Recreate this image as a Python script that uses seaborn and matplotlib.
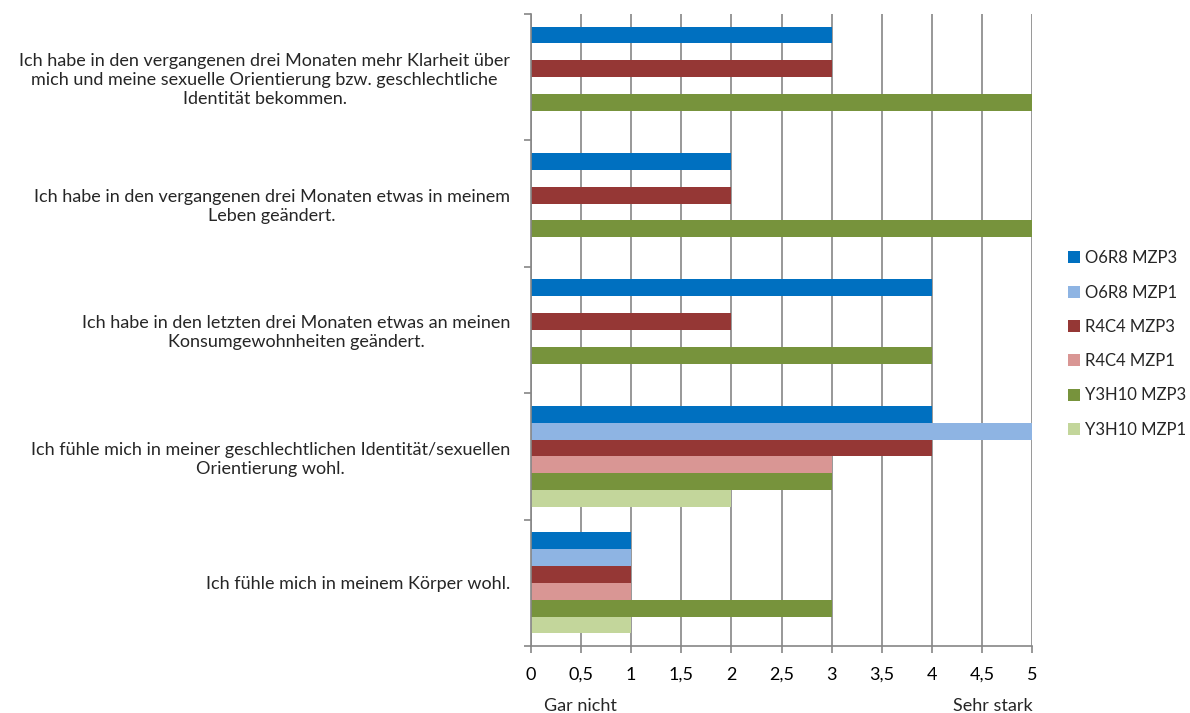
import matplotlib
matplotlib.use("Agg")
import matplotlib.pyplot as plt
import seaborn as sns
import pandas as pd
import numpy as np
from matplotlib.patches import Patch
from matplotlib.ticker import FixedLocator

categories = [
    "Ich habe in den vergangenen drei Monaten mehr Klarheit über\nmich und meine sexuelle Orientierung bzw. geschlechtliche\nIdentität bekommen.",
    "Ich habe in den vergangenen drei Monaten etwas in meinem\nLeben geändert.",
    "Ich habe in den letzten drei Monaten etwas an meinen\nKonsumgewohnheiten geändert.",
    "Ich fühle mich in meiner geschlechtlichen Identität/sexuellen\nOrientierung wohl.",
    "Ich fühle mich in meinem Körper wohl.",
]
series = ["O6R8 MZP3", "O6R8 MZP1", "R4C4 MZP3", "R4C4 MZP1", "Y3H10 MZP3", "Y3H10 MZP1"]
o6r8_mzp3 = [3, 2, 4, 4, 1]
o6r8_mzp1 = [None, None, None, 5, 1]
r4c4_mzp3 = [3, 2, 2, 4, 1]
r4c4_mzp1 = [None, None, None, 3, 1]
y3h10_mzp3 = [5, 5, 4, 3, 3]
y3h10_mzp1 = [None, None, None, 2, 1]
colors = ["#0070C0", "#8EB4E3", "#953735", "#D99694", "#77933C", "#C3D69B"]
x_ticks = [0, 0.5, 1, 1.5, 2, 2.5, 3, 3.5, 4, 4.5, 5]
x_tick_labels = ["0", "0,5", "1", "1,5", "2", "2,5", "3", "3,5", "4", "4,5", "5"]

values = [o6r8_mzp3, o6r8_mzp1, r4c4_mzp3, r4c4_mzp1, y3h10_mzp3, y3h10_mzp1]
rows = []
for s, vals in zip(series, values):
    for c, v in zip(categories, vals):
        if v is not None:
            rows.append({"Kategorie": c, "Serie": s, "Wert": v})
df = pd.DataFrame(rows)

sns.set_style("white")
plt.rcParams["font.family"] = ["Lato", "DejaVu Sans"]
FS = 13

fig = plt.figure(figsize=(11.9, 7.13), dpi=100)
ax = fig.add_axes([531/1190, 1-646/713, (1032-531)/1190, (646-14)/713])

sns.barplot(data=df, y="Kategorie", x="Wert", hue="Serie", order=categories,
            hue_order=series, palette=colors, orient="h", width=0.8,
            errorbar=None, ax=ax, legend=False, saturation=1, linewidth=0)

ax.set_xlim(0, 5)
ax.set_ylim(4.5, -0.5)
ax.set_xticks(x_ticks)
ax.set_xticklabels(x_tick_labels, fontsize=FS, color="#000000")
ax.xaxis.grid(True, color="#868686", linewidth=1.2)
ax.set_axisbelow(True)
ax.tick_params(axis="x", length=5, width=1.2, color="#868686", pad=10, direction="out", bottom=True)
ax.tick_params(axis="y", which="major", length=0, pad=15)
ax.yaxis.set_minor_locator(FixedLocator([-0.5, 0.5, 1.5, 2.5, 3.5, 4.5]))
ax.tick_params(axis="y", which="minor", length=5, width=1.2, color="#868686", left=True)
for lbl in ax.get_yticklabels():
    lbl.set_multialignment("center")
    lbl.set_fontsize(FS)
    lbl.set_linespacing(1.22)
ax.set_xlabel("")
ax.set_ylabel("")
for sp in ["top", "right"]:
    ax.spines[sp].set_visible(False)
for sp in ["left", "bottom"]:
    ax.spines[sp].set_color("#868686")
    ax.spines[sp].set_linewidth(1.2)

fig.text(580/1190, 1-706/713, "Gar nicht", ha="center", va="center", fontsize=FS)
fig.text(993/1190, 1-706/713, "Sehr stark", ha="center", va="center", fontsize=FS)

handles = [Patch(facecolor=c, edgecolor="none") for c in colors]
fig.legend(handles, series, loc="center left", bbox_to_anchor=(1053/1190, 1-344/713),
           frameon=False, fontsize=12, labelspacing=1.1, handlelength=0.7,
           handleheight=0.7, handletextpad=0.3)

fig.savefig("out.png", dpi=100)
